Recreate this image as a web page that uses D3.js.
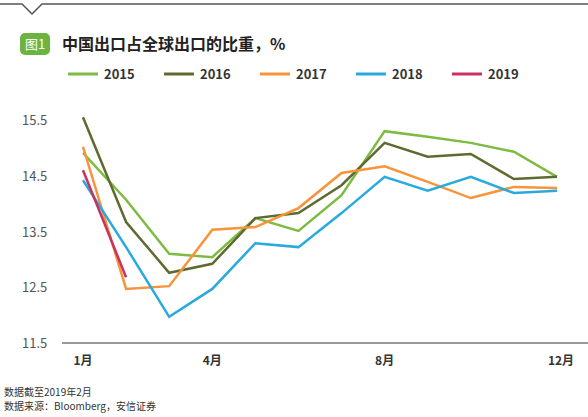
<!DOCTYPE html>
<html><head><meta charset="utf-8">
<script src="https://cdn.jsdelivr.net/npm/d3@7"></script>
<style>body{margin:0;background:#fff}svg{font-family:"Noto Sans CJK SC","Noto Sans",sans-serif}</style>
</head><body><svg width="588" height="417"></svg>
<script>
const months = ["1月","2月","3月","4月","5月","6月","7月","8月","9月","10月","11月","12月"];
const tickMonths = ["1月","4月","8月","12月"];
const yTicks = [11.5,12.5,13.5,14.5,15.5];
const years = ["2015","2016","2017","2018","2019"];
const colors = ["#7dbb42","#5e6b30","#f7943a","#29a9de","#c7325f"];
const s2015 = [14.91,14.07,13.10,13.04,13.74,13.51,14.15,15.30,15.20,15.09,14.93,14.48];
const s2016 = [15.55,13.67,12.76,12.92,13.74,13.83,14.33,15.09,14.84,14.89,14.44,14.48];
const s2017 = [15.02,12.47,12.52,13.53,13.58,13.92,14.55,14.67,14.39,14.10,14.30,14.28];
const s2018 = [14.42,13.22,11.97,12.47,13.29,13.22,13.83,14.48,14.23,14.48,14.19,14.23];
const s2019 = [14.60,12.68];
const series = [s2015,s2016,s2017,s2018,s2019];

const svg = d3.select("svg");
const x = d3.scalePoint().domain(months).range([83,557]);
const y = d3.scaleLinear().domain([11.5,15.5]).range([343,120]);

// header line with notch
svg.append("path").attr("d","M0,4H22L32,14L42,4H588").attr("fill","none").attr("stroke","#555").attr("stroke-width",1.5);
svg.append("rect").attr("x",20).attr("y",33).attr("width",30).attr("height",22).attr("rx",5).attr("fill","#6cb33f");
svg.append("text").attr("x",35).attr("y",49).attr("text-anchor","middle").attr("fill","#fff").attr("font-size",13).text("图1");
svg.append("text").attr("x",62).attr("y",50).attr("font-size",16).attr("font-weight","bold").attr("fill","#222").text("中国出口占全球出口的比重，%");

// legend
const lg = svg.append("g").selectAll("g").data(years).join("g")
  .attr("transform",(d,i)=>`translate(${68+i*96},74)`);
lg.append("line").attr("x1",0).attr("x2",30).attr("stroke",(d,i)=>colors[i]).attr("stroke-width",3);
lg.append("text").attr("x",36).attr("y",5).attr("font-size",13).attr("font-weight","bold").attr("fill","#333").text(d=>d);

// axes
svg.append("line").attr("x1",62).attr("x2",588).attr("y1",343).attr("y2",343).attr("stroke","#777").attr("stroke-width",1.5);
svg.append("g").selectAll("text").data(yTicks).join("text")
  .attr("x",22).attr("y",d=>y(d)+5).attr("font-size",13).attr("fill","#555").text(d=>d);
svg.append("g").selectAll("text").data(tickMonths).join("text")
  .attr("x",d=>x(d)+(d==="12月"?4:0)).attr("y",365).attr("text-anchor","middle")
  .attr("font-size",12).attr("font-weight","bold").attr("fill","#333").text(d=>d);

// lines
const line = d3.line().x((d,i)=>x(months[i])).y(d=>y(d));
svg.append("g").selectAll("path").data(series).join("path")
  .attr("d",line).attr("fill","none").attr("stroke",(d,i)=>colors[i]).attr("stroke-width",2.5);

// notes
svg.append("text").attr("x",4).attr("y",396).attr("font-size",10).attr("fill","#333").text("数据截至2019年2月");
svg.append("text").attr("x",4).attr("y",410).attr("font-size",10).attr("fill","#333").text("数据来源：Bloomberg，安信证券");
</script></body></html>
